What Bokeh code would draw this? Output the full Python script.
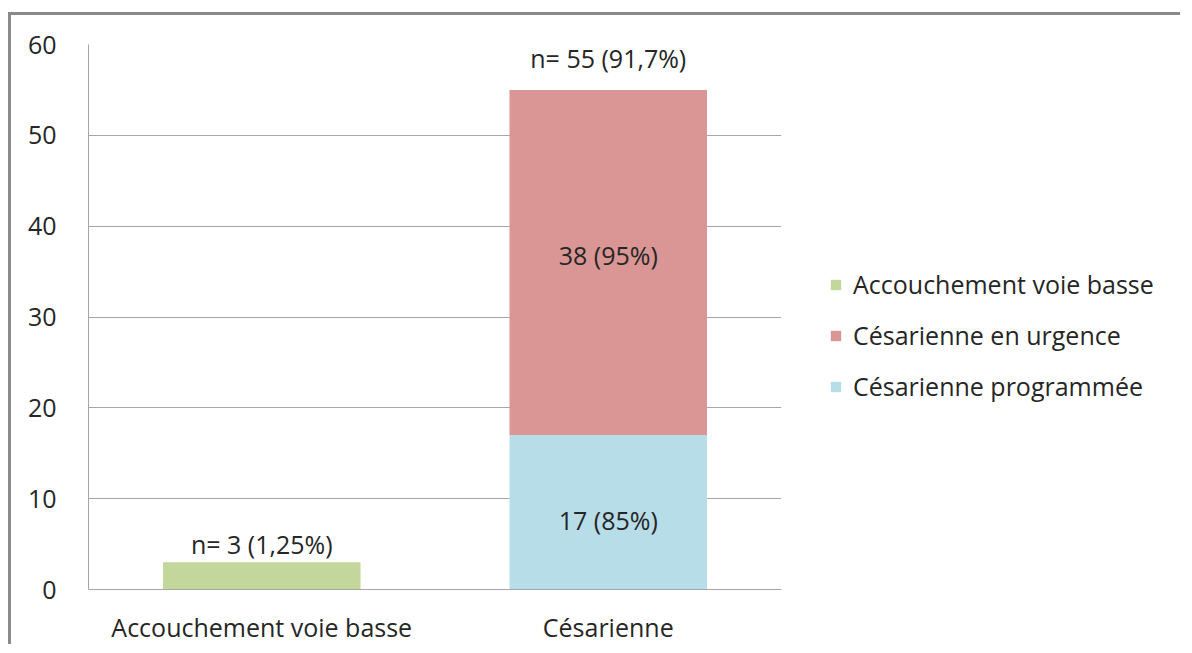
from bokeh.plotting import figure
from bokeh.layouts import row
from bokeh.models import Range1d, FactorRange, Legend, LegendItem, FixedTicker, ColumnDataSource
from bokeh.core.properties import value
from bokeh.embed import file_html
from bokeh.resources import INLINE

categories = ["Accouchement voie basse", "Césarienne"]
voie_basse = [3, 0]
cesar_programmee = [0, 17]
cesar_urgence = [0, 38]
totals_labels = ["n= 3 (1,25%)", "n= 55 (91,7%)"]
programmee_label = "17 (85%)"
urgence_label = "38 (95%)"
legend_labels = ["Accouchement voie basse", "Césarienne en urgence", "Césarienne programmée"]
y_ticks = [0, 10, 20, 30, 40, 50, 60]

FONT = "Open Sans"
FS = "25px"
TXT = "#262626"
GREEN = "#C3D69B"
RED = "#D99694"
BLUE = "#B7DDE8"
GRID = "#A6A6A6"
FRAME = "3px solid #8a8a8a"

p = figure(width=792, height=632, x_range=FactorRange(*categories, range_padding=0),
           y_range=Range1d(0, 60), output_backend="svg", toolbar_location=None,
           min_border_left=77, min_border_top=29, min_border_bottom=58, min_border_right=22)
p.styles = {"border-top": FRAME, "border-left": FRAME, "margin-top": "12px", "margin-left": "8px"}
p.outline_line_color = None

src = ColumnDataSource(dict(cat=categories, vb=voie_basse, prog=cesar_programmee, urg=cesar_urgence))
rs = p.vbar_stack(["vb", "prog", "urg"], x="cat", width=0.57, source=src,
                  color=[GREEN, BLUE, RED], line_color=None)

totals = [a + b + c for a, b, c in zip(voie_basse, cesar_programmee, cesar_urgence)]
p.text(x=[categories[0]], y=[totals[0]], text=[totals_labels[0]],
       text_align="center", text_baseline="bottom", y_offset=-1,
       text_font=value(FONT), text_font_size=FS, text_color=TXT)
p.text(x=[categories[1]], y=[totals[1]], text=[totals_labels[1]],
       text_align="center", text_baseline="bottom", y_offset=-15,
       text_font=value(FONT), text_font_size=FS, text_color=TXT)
p.text(x=[categories[1]], y=[cesar_programmee[1] + cesar_urgence[1] / 2], text=[urgence_label],
       text_align="center", text_baseline="middle", y_offset=-8,
       text_font=value(FONT), text_font_size=FS, text_color=TXT)
p.text(x=[categories[1]], y=[cesar_programmee[1] / 2], text=[programmee_label],
       text_align="center", text_baseline="middle", y_offset=8,
       text_font=value(FONT), text_font_size=FS, text_color=TXT)

p.yaxis.ticker = FixedTicker(ticks=y_ticks)
for ax in (p.xaxis[0], p.yaxis[0]):
    ax.major_tick_line_color = None
    ax.minor_tick_line_color = None
    ax.axis_line_color = GRID
    ax.major_label_text_font = FONT
    ax.major_label_text_font_size = FS
    ax.major_label_text_color = TXT
p.yaxis.major_label_standoff = 26
p.xaxis.major_label_standoff = 14
p.xgrid.grid_line_color = None
p.ygrid.grid_line_color = GRID
p.ygrid.grid_line_width = 1

# legend panel (separate figure on the right); its swatch renderers lie outside the visible range
lf = figure(width=380, height=632, x_range=Range1d(0, 1), y_range=Range1d(0, 1),
            output_backend="svg", toolbar_location=None,
            x_axis_location=None, y_axis_location=None, min_border=0)
lf.styles = {"border-top": FRAME, "margin-top": "12px"}
lf.outline_line_color = None
lf.grid.visible = False
dummy = [lf.vbar(x=[-5], top=[-5], bottom=[-6], width=0.1, fill_color=c, line_color=None)
         for c in (GREEN, RED, BLUE)]

legend = Legend(items=[LegendItem(label=lab, renderers=[r], index=0) for lab, r in zip(legend_labels, dummy)],
                location=(29, 186))
legend.glyph_width = 13
legend.glyph_height = 13
legend.label_height = 30
legend.spacing = 17
legend.padding = 0
legend.margin = 0
legend.label_standoff = 11
legend.border_line_color = None
legend.background_fill_color = None
legend.label_text_font = FONT
legend.label_text_font_size = FS
legend.label_text_color = TXT
lf.add_layout(legend)

layout = row(p, lf)
open("out.html", "w").write(file_html(layout, INLINE))
